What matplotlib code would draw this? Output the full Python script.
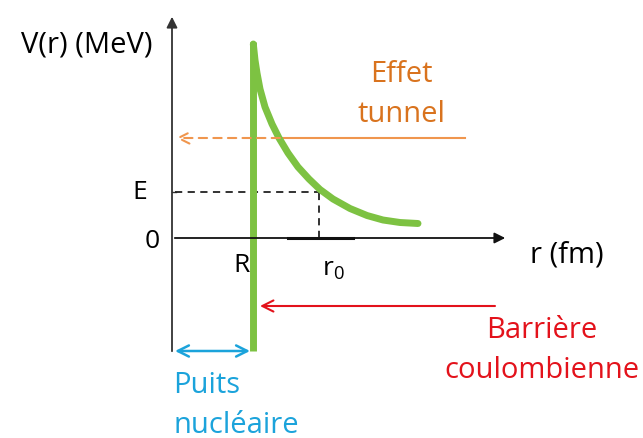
import matplotlib
matplotlib.use("Agg")
import matplotlib.pyplot as plt

plt.rcParams['font.family'] = ['Open Sans', 'DejaVu Sans']
plt.rcParams['mathtext.default'] = 'regular'

# positions (units of the drawing: r in fm, V in MeV, arbitrary scale)
R = 8.1
r0 = 14.7
E = 4.6
V_top = 19.6
V_well = -11.3

# coulomb barrier
r_curve = [8.13, 8.3, 8.5, 8.8, 9.3, 10.0, 10.7, 11.6, 12.6, 13.7, 14.8,
           16.1, 17.8, 19.5, 21.1, 22.8, 24.6]
V_curve = [19.4, 17.8, 16.5, 14.9, 13.1, 11.4, 10.0, 8.5, 7.1, 5.9, 4.85,
           3.9, 2.95, 2.25, 1.8, 1.55, 1.45]

tunnel_V = 10.0
tunnel_r = [0.4, 10.8, 29.3]
barrier_arrow = [32.3, 8.8, -6.8]
well_arrow = [0.3, 7.8]

green = '#7DC242'
orange_line = '#F0964E'
orange_txt = '#D9731E'
red = '#E3121B'
blue = '#1BA3DB'

fig = plt.figure(figsize=(6.43, 4.39), dpi=100)
ax = fig.add_axes([0, 0, 1, 1])
ax.set_xlim(-17.2, 47.1)
ax.set_ylim(-20.0, 23.9)
ax.axis('off')

# axes with arrows
ax.annotate('', xy=(0, 22.4), xytext=(0, -11.6),
            arrowprops=dict(arrowstyle='-|>', color='#333333', lw=1.3, mutation_scale=16))
ax.annotate('', xy=(33.6, 0), xytext=(0, 0),
            arrowprops=dict(arrowstyle='-|>', color='#111111', lw=1.3, mutation_scale=16))
ax.plot([0, 0.35], [E, E], color='#333333', lw=1)
ax.plot([11.6, 18.1], [0, 0], color='#111111', lw=2.2)

# E level
ax.plot([0.3, r0], [E, E], color='#222222', lw=1.3, ls=(0, (4, 3)))
ax.plot([r0, r0], [0, E], color='#222222', lw=1.3, ls=(0, (4, 3)))

# tunnel line
ax.plot(tunnel_r[1:], [tunnel_V, tunnel_V], color=orange_line, lw=1.5)
ax.annotate('', xy=(tunnel_r[0], tunnel_V), xytext=(tunnel_r[1], tunnel_V),
            arrowprops=dict(arrowstyle='->', color=orange_line, lw=1.5, ls=(0, (4, 3)),
                            mutation_scale=20, shrinkA=0, shrinkB=0))

# potential
ax.plot([R, R], [V_well, V_top], color=green, lw=5, solid_capstyle='butt')
ax.plot(r_curve, V_curve, color=green, lw=5, solid_capstyle='round',
        solid_joinstyle='round')

# annotations arrows
ax.annotate('', xy=(barrier_arrow[1], barrier_arrow[2]), xytext=(barrier_arrow[0], barrier_arrow[2]),
            arrowprops=dict(arrowstyle='->', color=red, lw=1.5, mutation_scale=20,
                            shrinkA=0, shrinkB=0))
ax.annotate('', xy=(well_arrow[0], V_well), xytext=(well_arrow[1], V_well),
            arrowprops=dict(arrowstyle='<->', color=blue, lw=1.8, mutation_scale=20,
                            shrinkA=0, shrinkB=0))

fs = 21
ls = 1.5
ax.text(-8.5, 19.4, 'V(r) (MeV)', fontsize=fs, ha='center', va='center')
ax.text(-3.2, 4.6, 'E', fontsize=19, ha='center', va='center')
ax.text(-2.0, -0.3, '0', fontsize=19, ha='center', va='center')
ax.text(7.0, -2.7, 'R', fontsize=19, ha='center', va='center')
ax.text(16.1, -3.1, 'r$_0$', fontsize=19, ha='center', va='center')
ax.text(39.5, -1.6, 'r (fm)', fontsize=fs, ha='center', va='center')
ax.text(22.9, 14.4, 'Effet\ntunnel', fontsize=fs, ha='center', va='center',
        color=orange_txt, linespacing=ls)
ax.text(37.0, -11.2, 'Barrière\ncoulombienne', fontsize=fs, ha='center', va='center',
        color=red, linespacing=ls)
ax.text(0.1, -16.7, 'Puits\nnucléaire', fontsize=fs, ha='left', va='center',
        color=blue, linespacing=ls)

fig.savefig('out.png', dpi=100)
